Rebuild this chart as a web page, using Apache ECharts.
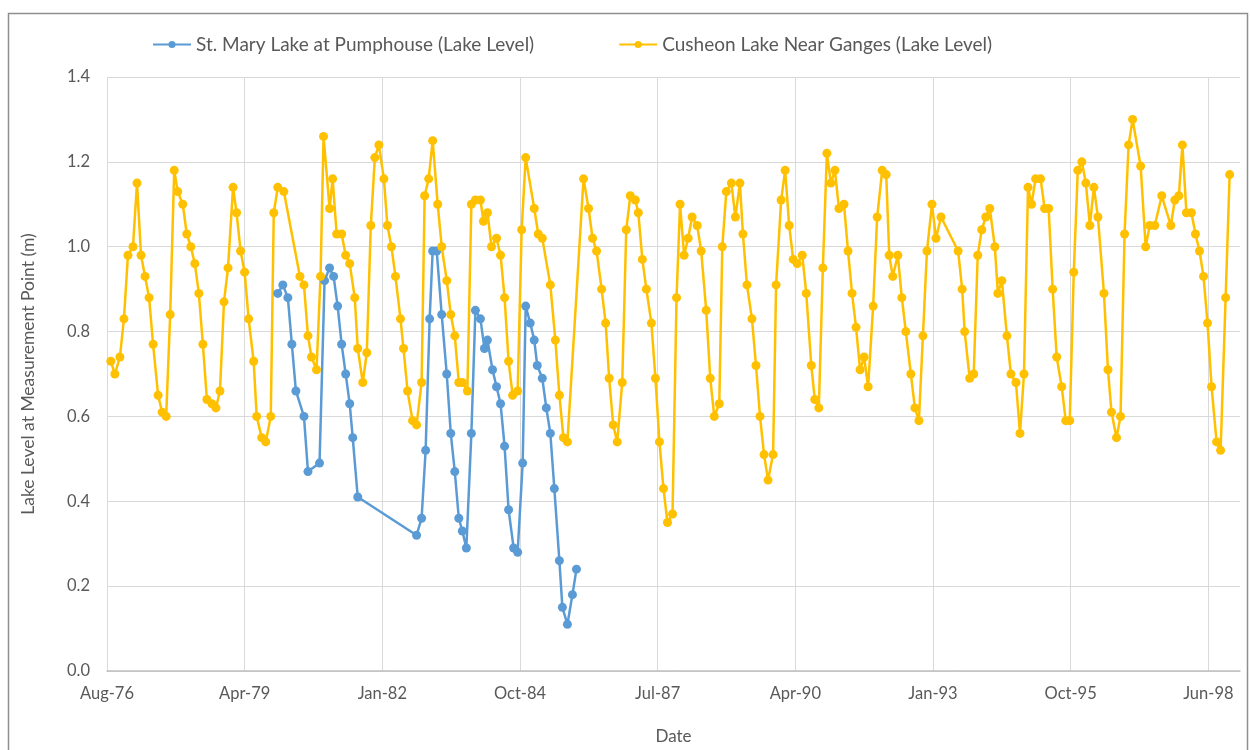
<!DOCTYPE html>
<html>
<head>
    <meta charset="utf-8">
    <title>Lake levels</title>
    <script src="https://cdn.jsdelivr.net/npm/echarts@6/dist/echarts.min.js"></script>
</head>
<body style="margin:0;">
    <div id="main" style="width:1250px;height:750px;"></div>

    <script type="text/javascript">

        // dates as decimal years, levels in metres
        var maryYears = [
            1979.98, 1980.08, 1980.18, 1980.26, 1980.34, 1980.50, 1980.58, 1980.81, 1980.91, 1981.01,
            1981.09, 1981.17, 1981.25, 1981.33, 1981.41, 1981.47, 1981.57, 1982.74, 1982.84, 1982.92,
            1983.00, 1983.06, 1983.14, 1983.24, 1983.34, 1983.42, 1983.50, 1983.58, 1983.65, 1983.73,
            1983.83, 1983.91, 1984.01, 1984.09, 1984.15, 1984.25, 1984.33, 1984.41, 1984.49, 1984.57,
            1984.67, 1984.75, 1984.85, 1984.91, 1985.00, 1985.08, 1985.14, 1985.24, 1985.32, 1985.40,
            1985.48, 1985.58, 1985.64, 1985.74, 1985.84, 1985.92
        ];
        var maryLevels = [
            0.89, 0.91, 0.88, 0.77, 0.66, 0.60, 0.47, 0.49, 0.92, 0.95,
            0.93, 0.86, 0.77, 0.70, 0.63, 0.55, 0.41, 0.32, 0.36, 0.52,
            0.83, 0.99, 0.99, 0.84, 0.70, 0.56, 0.47, 0.36, 0.33, 0.29,
            0.56, 0.85, 0.83, 0.76, 0.78, 0.71, 0.67, 0.63, 0.53, 0.38,
            0.29, 0.28, 0.49, 0.86, 0.82, 0.78, 0.72, 0.69, 0.62, 0.56,
            0.43, 0.26, 0.15, 0.11, 0.18, 0.24
        ];

        var cusheonYears = [
            1976.66, 1976.74, 1976.84, 1976.92, 1977.00, 1977.10, 1977.18, 1977.26, 1977.34, 1977.42,
            1977.50, 1977.60, 1977.68, 1977.76, 1977.84, 1977.92, 1977.99, 1978.09, 1978.17, 1978.25,
            1978.33, 1978.41, 1978.49, 1978.57, 1978.67, 1978.75, 1978.83, 1978.91, 1978.99, 1979.09,
            1979.16, 1979.24, 1979.32, 1979.40, 1979.50, 1979.56, 1979.66, 1979.74, 1979.84, 1979.90,
            1979.98, 1980.10, 1980.42, 1980.50, 1980.58, 1980.65, 1980.75, 1980.83, 1980.89, 1981.01,
            1981.07, 1981.15, 1981.25, 1981.33, 1981.41, 1981.51, 1981.57, 1981.67, 1981.75, 1981.83,
            1981.91, 1981.99, 1982.09, 1982.16, 1982.24, 1982.32, 1982.42, 1982.48, 1982.56, 1982.66,
            1982.74, 1982.84, 1982.90, 1982.98, 1983.06, 1983.16, 1983.24, 1983.34, 1983.42, 1983.50,
            1983.58, 1983.65, 1983.75, 1983.83, 1983.91, 1984.01, 1984.07, 1984.15, 1984.23, 1984.33,
            1984.41, 1984.49, 1984.57, 1984.65, 1984.75, 1984.83, 1984.91, 1985.08, 1985.16, 1985.24,
            1985.40, 1985.50, 1985.58, 1985.66, 1985.74, 1986.06, 1986.16, 1986.24, 1986.32, 1986.42,
            1986.50, 1986.57, 1986.65, 1986.73, 1986.83, 1986.91, 1986.99, 1987.09, 1987.15, 1987.23,
            1987.31, 1987.41, 1987.49, 1987.57, 1987.65, 1987.73, 1987.83, 1987.91, 1987.98, 1988.06,
            1988.14, 1988.22, 1988.32, 1988.40, 1988.50, 1988.58, 1988.66, 1988.76, 1988.82, 1988.90,
            1989.00, 1989.08, 1989.17, 1989.23, 1989.31, 1989.41, 1989.49, 1989.57, 1989.65, 1989.73,
            1989.83, 1989.89, 1989.99, 1990.07, 1990.15, 1990.23, 1990.31, 1990.41, 1990.49, 1990.59,
            1990.66, 1990.74, 1990.82, 1990.90, 1990.98, 1991.06, 1991.14, 1991.24, 1991.32, 1991.40,
            1991.48, 1991.56, 1991.64, 1991.72, 1991.82, 1991.90, 1992.00, 1992.08, 1992.14, 1992.21,
            1992.31, 1992.39, 1992.47, 1992.57, 1992.65, 1992.73, 1992.81, 1992.89, 1992.99, 1993.07,
            1993.17, 1993.51, 1993.59, 1993.64, 1993.74, 1993.82, 1993.90, 1993.98, 1994.06, 1994.14,
            1994.24, 1994.30, 1994.38, 1994.48, 1994.56, 1994.66, 1994.74, 1994.82, 1994.90, 1994.97,
            1995.05, 1995.15, 1995.23, 1995.31, 1995.39, 1995.47, 1995.57, 1995.65, 1995.73, 1995.81,
            1995.89, 1995.97, 1996.05, 1996.13, 1996.21, 1996.29, 1996.41, 1996.49, 1996.56, 1996.66,
            1996.74, 1996.82, 1996.90, 1996.98, 1997.14, 1997.24, 1997.32, 1997.42, 1997.56, 1997.74,
            1997.82, 1997.90, 1997.97, 1998.05, 1998.15, 1998.23, 1998.31, 1998.39, 1998.47, 1998.55,
            1998.65, 1998.73, 1998.83, 1998.91
        ];
        var cusheonLevels = [
            0.73, 0.70, 0.74, 0.83, 0.98, 1.00, 1.15, 0.98, 0.93, 0.88,
            0.77, 0.65, 0.61, 0.60, 0.84, 1.18, 1.13, 1.10, 1.03, 1.00,
            0.96, 0.89, 0.77, 0.64, 0.63, 0.62, 0.66, 0.87, 0.95, 1.14,
            1.08, 0.99, 0.94, 0.83, 0.73, 0.60, 0.55, 0.54, 0.60, 1.08,
            1.14, 1.13, 0.93, 0.91, 0.79, 0.74, 0.71, 0.93, 1.26, 1.09,
            1.16, 1.03, 1.03, 0.98, 0.96, 0.88, 0.76, 0.68, 0.75, 1.05,
            1.21, 1.24, 1.16, 1.05, 1.00, 0.93, 0.83, 0.76, 0.66, 0.59,
            0.58, 0.68, 1.12, 1.16, 1.25, 1.10, 1.00, 0.92, 0.84, 0.79,
            0.68, 0.68, 0.66, 1.10, 1.11, 1.11, 1.06, 1.08, 1.00, 1.02,
            0.98, 0.88, 0.73, 0.65, 0.66, 1.04, 1.21, 1.09, 1.03, 1.02,
            0.91, 0.78, 0.65, 0.55, 0.54, 1.16, 1.09, 1.02, 0.99, 0.90,
            0.82, 0.69, 0.58, 0.54, 0.68, 1.04, 1.12, 1.11, 1.08, 0.97,
            0.90, 0.82, 0.69, 0.54, 0.43, 0.35, 0.37, 0.88, 1.10, 0.98,
            1.02, 1.07, 1.05, 0.99, 0.85, 0.69, 0.60, 0.63, 1.00, 1.13,
            1.15, 1.07, 1.15, 1.03, 0.91, 0.83, 0.72, 0.60, 0.51, 0.45,
            0.51, 0.91, 1.11, 1.18, 1.05, 0.97, 0.96, 0.98, 0.89, 0.72,
            0.64, 0.62, 0.95, 1.22, 1.15, 1.18, 1.09, 1.10, 0.99, 0.89,
            0.81, 0.71, 0.74, 0.67, 0.86, 1.07, 1.18, 1.17, 0.98, 0.93,
            0.98, 0.88, 0.80, 0.70, 0.62, 0.59, 0.79, 0.99, 1.10, 1.02,
            1.07, 0.99, 0.90, 0.80, 0.69, 0.70, 0.98, 1.04, 1.07, 1.09,
            1.00, 0.89, 0.92, 0.79, 0.70, 0.68, 0.56, 0.70, 1.14, 1.10,
            1.16, 1.16, 1.09, 1.09, 0.90, 0.74, 0.67, 0.59, 0.59, 0.94,
            1.18, 1.20, 1.15, 1.05, 1.14, 1.07, 0.89, 0.71, 0.61, 0.55,
            0.60, 1.03, 1.24, 1.30, 1.19, 1.00, 1.05, 1.05, 1.12, 1.05,
            1.11, 1.12, 1.24, 1.08, 1.08, 1.03, 0.99, 0.93, 0.82, 0.67,
            0.54, 0.52, 0.88, 1.17
        ];

        // date axis: days since 1 Aug 1976, one tick every 1000 days
        var xTickLabels = ['Aug-76', 'Apr-79', 'Jan-82', 'Oct-84', 'Jul-87', 'Apr-90', 'Jan-93', 'Oct-95', 'Jun-98'];
        var AXIS_START = 1976 + 7 / 12;

        function toDays(yr) {
            return Math.round((yr - AXIS_START) * 365.25 * 10) / 10;
        }
        function pairs(years, levels) {
            var out = [];
            for (var i = 0; i < years.length; i++) {
                out.push([toDays(years[i]), levels[i]]);
            }
            return out;
        }

        var FONT = 'Lato';
        var TEXT = '#595959';
        var GRID = '#d9d9d9';

        var chart = echarts.init(document.getElementById('main'));

        var option = {
            animation: false,
            backgroundColor: '#fff',
            textStyle: { fontFamily: FONT },
            graphic: [{
                type: 'rect',
                shape: { x: 8.5, y: 13.5, width: 1239, height: 760 },
                style: { fill: 'none', stroke: '#8f8f8f', lineWidth: 1.5 },
                silent: true
            }],
            legend: {
                left: 147,
                top: 30,
                itemGap: 84,
                itemWidth: 38,
                itemHeight: 9,
                textStyle: { fontFamily: FONT, fontSize: 19, color: TEXT },
                data: ['St. Mary Lake at Pumphouse (Lake Level)', 'Cusheon Lake Near Ganges (Lake Level)']
            },
            grid: { left: 107, right: 10, top: 77, bottom: 70 },
            xAxis: {
                type: 'value',
                min: 0,
                max: 8230,
                interval: 1000,
                name: 'Date',
                nameLocation: 'middle',
                nameGap: 57,
                nameTextStyle: { fontFamily: FONT, fontSize: 17, color: TEXT },
                axisLine: { show: true, lineStyle: { color: '#bfbfbf', width: 1.5 } },
                axisTick: { show: false },
                axisLabel: {
                    fontFamily: FONT, fontSize: 16.5, color: TEXT, margin: 14,
                    formatter: function (v) {
                        var i = Math.round(v / 1000);
                        return (Math.abs(v - i * 1000) < 1e-6 && xTickLabels[i]) ? xTickLabels[i] : '';
                    }
                },
                splitLine: { show: true, showMaxLine: false, lineStyle: { color: GRID, width: 1 } }
            },
            yAxis: {
                type: 'value',
                min: 0,
                max: 1.4,
                interval: 0.2,
                name: 'Lake Level at Measurement Point (m)',
                nameLocation: 'middle',
                nameGap: 70,
                nameRotate: 90,
                nameTextStyle: { fontFamily: FONT, fontSize: 17.5, color: TEXT },
                axisLine: { show: false },
                axisTick: { show: false },
                axisLabel: {
                    fontFamily: FONT, fontSize: 16.5, color: TEXT, margin: 17,
                    formatter: function (v) { return v.toFixed(1); }
                },
                splitLine: { show: true, lineStyle: { color: GRID, width: 1 } }
            },
            series: [{
                name: 'St. Mary Lake at Pumphouse (Lake Level)',
                type: 'line',
                data: pairs(maryYears, maryLevels),
                symbol: 'circle',
                symbolSize: 9,
                color: '#5b9bd5',
                lineStyle: { width: 2.5, color: '#5b9bd5' },
                itemStyle: { color: '#5b9bd5' }
            }, {
                name: 'Cusheon Lake Near Ganges (Lake Level)',
                type: 'line',
                data: pairs(cusheonYears, cusheonLevels),
                symbol: 'circle',
                symbolSize: 9,
                color: '#ffc000',
                lineStyle: { width: 2.5, color: '#ffc000' },
                itemStyle: { color: '#ffc000' }
            }]
        };

        chart.setOption(option);

    </script>
</body>
</html>
